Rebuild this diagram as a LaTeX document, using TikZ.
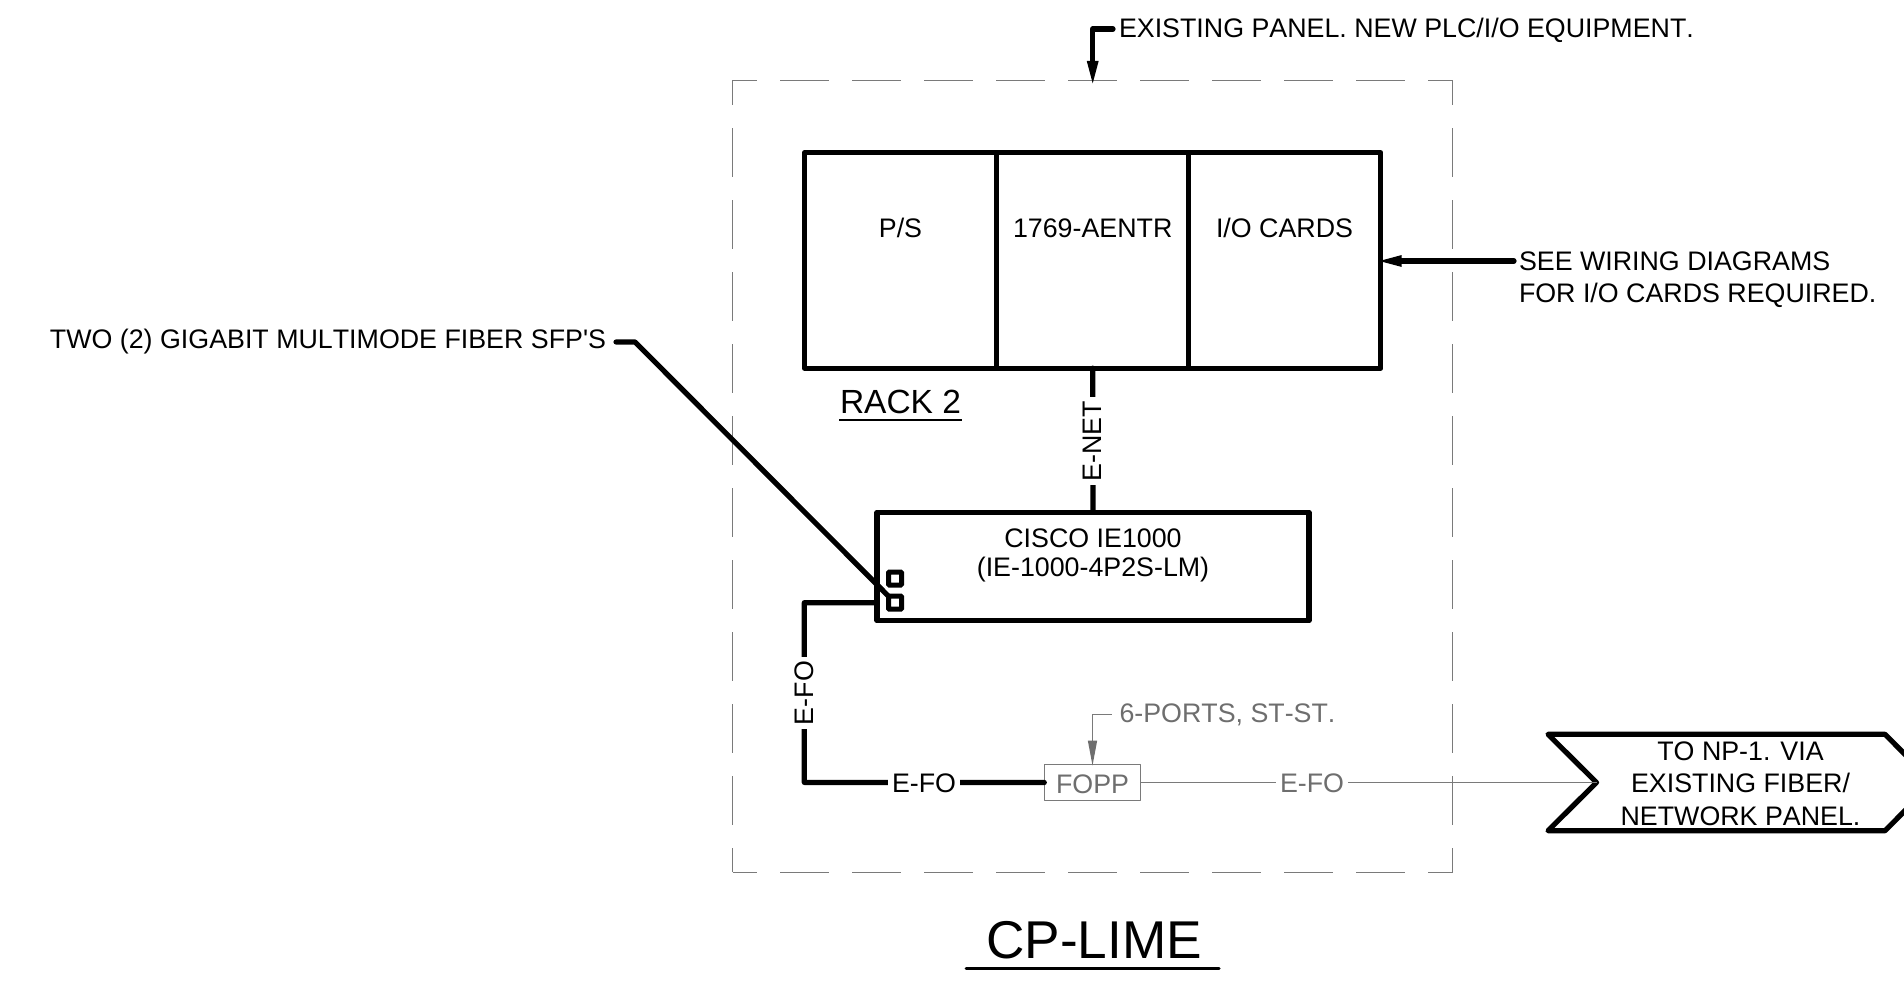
\documentclass[tikz,border=0pt]{standalone}
\usepackage{fontspec}
\setmainfont[Ligatures=TeXOff,Kerning=Off]{Liberation Sans}
\usetikzlibrary{arrows.meta}
\definecolor{fadedgray}{HTML}{6E6E6E}
\definecolor{thingray}{HTML}{7A7A7A}
\tikzset{
  thick line/.style={line width=5.2pt,line join=round,line cap=round,black},
  thin gray/.style={line width=1.3pt,thingray},
  boxcell/.style={rectangle,draw,thick line,inner sep=0pt,outer sep=0pt},
  txt/.style={font=\fontsize{26.8}{32}\selectfont,inner sep=0pt,outer sep=0pt,text=black},
  graytxt/.style={txt,text=fadedgray},
  online/.style={txt,fill=white,inner xsep=4pt,inner ysep=0pt,minimum height=20pt},
  port/.style={rectangle,draw,black,line width=5pt,minimum size=13pt,inner sep=0pt,outer sep=0pt,rounded corners=0.8pt},
  panel/.style={rectangle,draw,thingray,line width=1.3pt,dash pattern=on 48.7pt off 23.3pt,dash phase=24.35pt,inner sep=0pt},
  bigtip/.style={-{Triangle[length=26pt,width=10pt]},shorten >=-5pt},
}
\begin{document}
\begin{tikzpicture}[x=1pt,y=-1pt]
\path[use as bounding box] (0,0) rectangle (1904,981);
\clip (0,0) rectangle (1904,981);
\fill[white] (0,0) rectangle (1904,981);

% panel
\node[panel,minimum width=720pt,minimum height=791.8pt] (panel) at (1092.5,476.4) {};
\coordinate (panelTop) at (1092.7,82);

% rack
\node[boxcell,minimum width=192pt,minimum height=215.5pt] (ps) at (900.7,260.4) {};
\node[boxcell,minimum width=192pt,minimum height=215.5pt] (aentr) at (1092.7,260.4) {};
\node[boxcell,minimum width=192pt,minimum height=215.5pt] (io) at (1284.7,260.4) {};
\node[txt] (pstxt) at (900.5,228) {P/S};
\node[txt] (aentrtxt) at (1092.7,228) {1769-AENTR};
\node[txt] (iotxt) at (1284.5,228) {I/O CARDS};
\node[font=\fontsize{33.5}{38}\selectfont,inner sep=0pt] (racktxt) at (900.5,402) {RACK 2};
\coordinate (rackUL) at (839,420);
\coordinate (rackUR) at (962,420);
\draw[line width=2.6pt,black] (rackUL) -- (rackUR);

% switch
\node[boxcell,minimum width=432pt,minimum height=108.4pt] (cisco) at (1093,566.5) {};
\node[txt,align=center,font=\fontsize{26.8}{28.5}\selectfont] (ciscotxt) at (1093,555.5) {CISCO IE1000\\(IE-1000-4P2S-LM)};
\node[port] (portA) at (895,578.5) {};
\node[port] (portB) at (895,602.7) {};

% E-NET
\draw[thick line] (aentr.south) -- (cisco.north);
\node[online,rotate=90] (enet) at (1092.7,441) {E-NET};

% E-FO black
\coordinate (efoCorner1) at (804.3,602.7);
\coordinate (efoCorner2) at (804.3,782.4);
\node[boxcell,draw=thingray,line width=1.3pt,minimum width=96.4pt,minimum height=36.4pt] (fopp) at (1092.5,782.5) {};
\node[graytxt] (fopptxt) at (1092.5,784) {FOPP};
\draw[thick line] (cisco.west |- efoCorner1) -- (efoCorner1) -- (efoCorner2) -- (fopp.west);
\node[online,rotate=90] (efoV) at (804.3,693) {E-FO};
\node[online] (efoH) at (924,783) {E-FO};

% flag
\draw[thick line,fill=white] (1548,734.3) -- (1885,734.3) -- (1933,782.5) -- (1885,830.7) -- (1548,830.7) -- (1596.5,782.5) -- cycle;
\coordinate (flagNotch) at (1596.5,782.5);
\node[txt,align=center,font=\fontsize{26.8}{32.5}\selectfont] (flagtxt) at (1740.5,783.5) {TO NP-1. VIA\\EXISTING FIBER/\\NETWORK PANEL.};

% gray E-FO
\draw[thin gray] (fopp.east) -- (flagNotch);
\node[online,text=fadedgray] (efoG) at (1312,783) {E-FO};

% 6-ports note
\node[graytxt,anchor=west] (portsnote) at (1119.5,715) {6-PORTS, ST-ST.};
\coordinate (portsElbow) at (1092.5,714.3);
\draw[line width=1.3pt,thingray,shorten >=-1.3pt,-{Triangle[length=25pt,width=9pt,fadedgray]}] (portsnote.west) ++(-8,-0.7) -- (portsElbow) -- (fopp.north);

% top note
\node[txt,anchor=west] (topnote) at (1119,30) {EXISTING PANEL. NEW PLC/I/O EQUIPMENT.};
\coordinate (topElbow) at (1092.7,29);
\draw[thick line,bigtip] (topnote.west) ++(-6,-1) -- (topElbow) -- (panelTop);

% right note
\node[txt,anchor=west,align=left,font=\fontsize{26.8}{32}\selectfont] (rightnote) at (1519,279.5) {SEE WIRING DIAGRAMS\\FOR I/O CARDS REQUIRED.};
\coordinate (rightStart) at (1514,261);
\draw[thick line,bigtip] (rightStart) -- (io.east |- rightStart);

% left note
\node[txt,anchor=east] (leftnote) at (606,342) {TWO (2) GIGABIT MULTIMODE FIBER SFP'S};
\coordinate (leftStart) at (616,342);
\coordinate (leftElbow) at (635,342);
\draw[thick line] (leftStart) -- (leftElbow) -- (portB.north west);

% title
\node[font=\fontsize{53.2}{60}\selectfont,inner sep=0pt] (title) at (1094,940) {CP-LIME};
\coordinate (titleUL) at (966,968.7);
\coordinate (titleUR) at (1219,968.7);
\draw[line width=3pt,line cap=round,black] (titleUL) -- (titleUR);
\end{tikzpicture}
\end{document}
